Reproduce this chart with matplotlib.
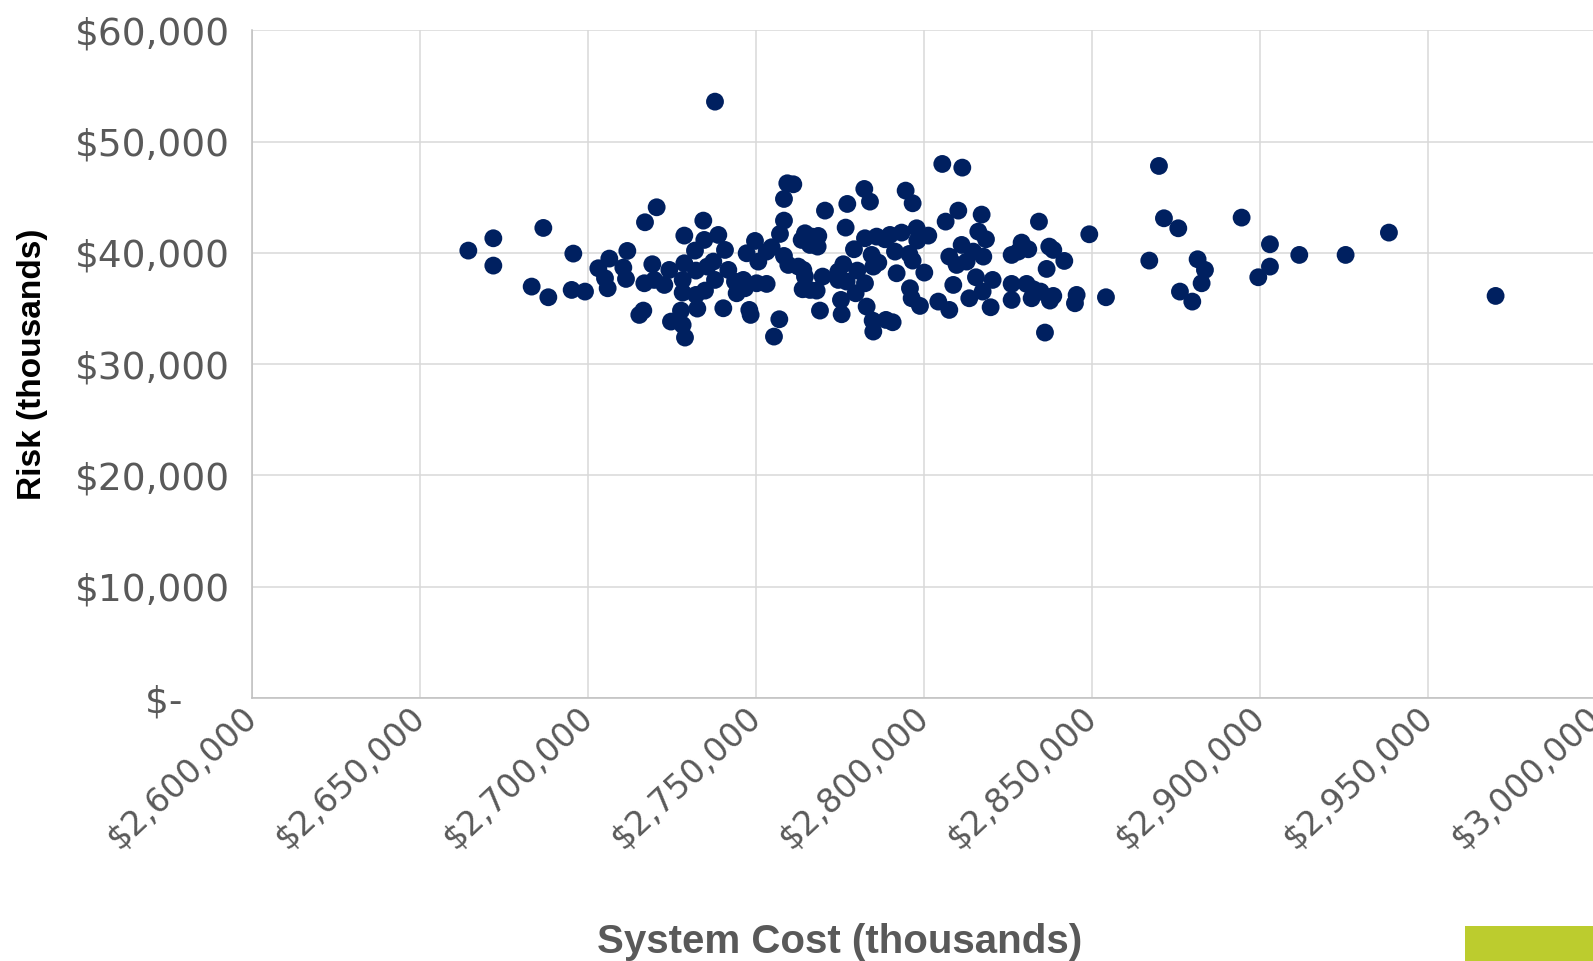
import matplotlib
matplotlib.use("Agg")
import matplotlib.pyplot as plt
import matplotlib.patches as mpatches
from matplotlib.ticker import FuncFormatter

# ── Data (thousands of $) ───────────────────────────────────────────────────
system_cost = [
    2664385, 2671825, 2671825, 2686705, 2683233, 2688193, 2695633, 2695137,
    2699105, 2703073, 2706346, 2705057, 2705850, 2710513, 2711703, 2711305,
    2716961, 2720433, 2719144, 2716763, 2719739, 2722715, 2724203, 2715273,
    2716463, 2728666, 2734321, 2734618, 2731841, 2728666, 2732137, 2728170,
    2728170, 2732137, 2734817, 2735511, 2727674, 2732534, 2724699, 2728170,
    2728865,
    2737792, 2805446, 2811398, 2759318, 2761104, 2758326, 2782234, 2783920,
    2794534, 2796618, 2770528, 2777174, 2758326, 2757136, 2776678, 2810208,
    2806438, 2749696, 2738784, 2740768, 2737296, 2741760, 2737792, 2743744,
    2746224, 2744240, 2746720, 2747216, 2750688, 2753168, 2754656, 2750192,
    2753168, 2740272, 2748010, 2748406, 2756938, 2755350, 2758326, 2759616,
    2762592, 2764080, 2764576, 2763880, 2766064, 2768048, 2769834, 2764576,
    2763584, 2766560, 2768544, 2766064, 2768346, 2769040, 2774496, 2775984,
    2774496, 2776976, 2775290, 2775488, 2779160, 2780150, 2779656, 2782432,
    2782928, 2782432, 2785904, 2784416, 2784912, 2786400, 2784714, 2784912,
    2788682, 2790666, 2788384, 2789872, 2791364, 2793344, 2791856, 2795620,
    2796618, 2797808, 2798006, 2801280, 2795824, 2796320, 2798800, 2800090,
    2804256, 2807530, 2808720, 2807530, 2809712, 2811200, 2812688, 2813482,
    2817152, 2816160, 2818442, 2814672, 2817648, 2815466, 2820426, 2817450,
    2819830, 2829056, 2831040, 2826080, 2828064, 2834214, 2837290, 2838480,
    2841754, 2836496, 2826080, 2830544, 2832528, 2834710, 2838480, 2837488,
    2826080, 2832032, 2845424, 2844928, 2836000, 2849194, 2854154, 2869926,
    2871414, 2875680, 2867050, 2881430, 2883616, 2882624, 2876176, 2879846,
    2894528, 2902960, 2902960, 2899488, 2911690, 2925478, 2938374, 2970118,
]
risk = [
    40210, 41318, 38862, 42246, 36975, 36017, 39940, 36675,
    36526, 38622, 39491, 37724, 36825, 38682, 40180, 37664,
    42755, 44103, 38982, 37274, 37574, 37125, 38473, 34429,
    34819, 41558, 42905, 41168, 40210, 39072, 38413, 37574,
    36436, 36226, 36615, 38772, 34819, 34999, 33830, 33531,
    32393,
    53597, 47997, 47667, 46260, 46170, 44852, 45750, 44612,
    45601, 44463, 43804, 44403, 42905, 41707, 42276, 43804,
    42815, 41078, 41617, 40270, 39222, 38473, 37574, 37424,
    37574, 36376, 36825, 39970, 39221, 40120, 40509, 37274,
    37215, 35028, 34879, 34430, 34040, 32482, 39729, 38922,
    38772, 38473, 37874, 36736, 36676, 36615, 37874, 41767,
    41168, 41467, 41527, 40719, 40569, 34819, 38323, 38982,
    37574, 37424, 35777, 34490, 40330, 38413, 36376, 37274,
    35178, 41318, 41467, 39821, 38772, 39132, 33920, 32933,
    33980, 33770, 41228, 41617, 40120, 41827, 38173, 39910,
    39311, 42216, 41108, 41558, 36825, 35927, 35238, 38233,
    35627, 34879, 37125, 39671, 38922, 40719, 39221, 35927,
    43444, 41917, 41228, 40120, 39671, 37813, 37574, 36526,
    35118, 40929, 40330, 39821, 40120, 42815, 40569, 40270,
    39282, 38563, 37215, 37215, 36736, 36526, 36136, 35717,
    35777, 35927, 36226, 35477, 32842, 41677, 36017, 47817,
    43115, 42216, 39311, 39431, 38473, 37274, 36526, 35627,
    43175, 40779, 38772, 37814, 39821, 39821, 41827, 36136,
]

x_ticks = [2600000, 2650000, 2700000, 2750000, 2800000, 2850000, 2900000, 2950000, 3000000]
y_ticks = [0, 10000, 20000, 30000, 40000, 50000, 60000]

W, H = 1593, 961
MARKER = "#002060"
GRID = "#D9D9D9"
TICK_COL = "#595959"

fig = plt.figure(figsize=(W / 100, H / 100), dpi=100)
fig.patch.set_facecolor("white")

# plot area in pixels: left 252, right 1596, top 30, bottom 698
ax = fig.add_axes([252 / W, 1 - 698 / H, (1596 - 252) / W, (698 - 30.4) / H])
ax.set_xlim(x_ticks[0], x_ticks[-1])
ax.set_ylim(y_ticks[0], y_ticks[-1])
ax.set_xticks(x_ticks)
ax.set_yticks(y_ticks)
ax.grid(True, color=GRID, linewidth=1.1, zorder=0)
ax.set_axisbelow(True)

for side in ["top", "right"]:
    ax.spines[side].set_visible(False)
for side in ["left", "bottom"]:
    ax.spines[side].set_color("#BFBFBF")
    ax.spines[side].set_linewidth(1.1)

ax.scatter(system_cost, risk, s=165, color=MARKER, edgecolors="none", zorder=3, clip_on=False)

ax.yaxis.set_major_formatter(FuncFormatter(lambda v, _: "$-    " if v == 0 else f"${int(v):,}"))
ax.xaxis.set_major_formatter(FuncFormatter(lambda v, _: f"${int(v):,}"))

ax.tick_params(axis="y", length=0, colors=TICK_COL, labelsize=27, pad=16)
ax.tick_params(axis="x", length=0, colors=TICK_COL, labelsize=24, pad=11)
for lbl in ax.get_xticklabels():
    lbl.set_rotation(43)
    lbl.set_ha("right")
    lbl.set_va("center")
    lbl.set_rotation_mode("anchor")

fig.text(33 / W, 1 - 364 / H, "Risk (thousands)", rotation=90, ha="center", va="center",
         fontsize=24, fontweight="bold", color="black",
         family=["Liberation Sans Narrow", "Liberation Sans", "DejaVu Sans"])
fig.text(840 / W, 1 - 942 / H, "System Cost (thousands)", ha="center", va="center",
         fontsize=29, fontweight="bold", color=TICK_COL,
         family=["Liberation Sans", "DejaVu Sans"])

# green slide-edge block in the bottom right corner
fig.patches.append(mpatches.Rectangle((1465 / W, 0), (W - 1465) / W, (961 - 926) / H,
                                      transform=fig.transFigure, facecolor="#BCCC2E",
                                      edgecolor="none"))

fig.savefig("out.png", dpi=100, facecolor="white")
